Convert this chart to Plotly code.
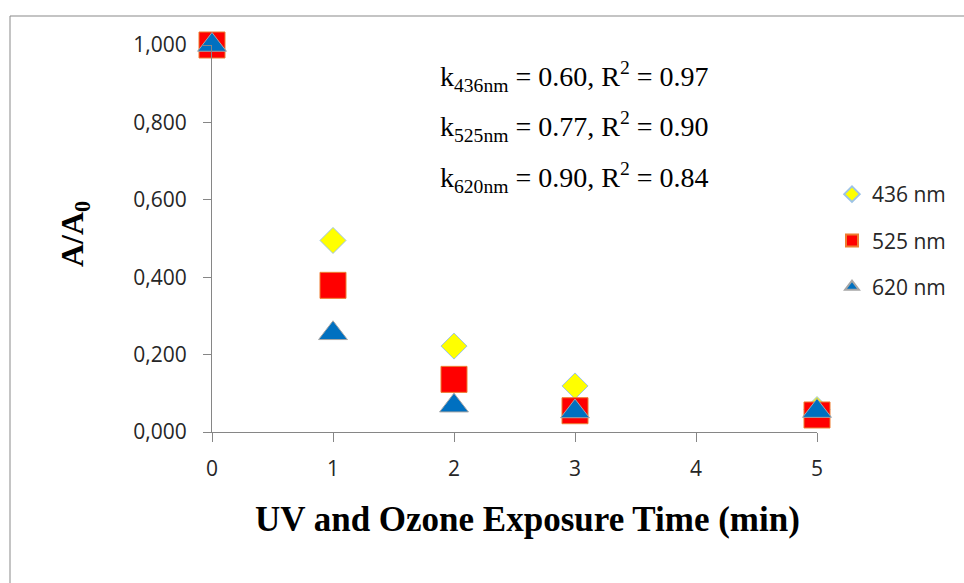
import plotly.graph_objects as go

# ---- data ----
times = [0, 1, 2, 3, 5]
a436 = [1.0, 0.495, 0.222, 0.119, 0.058]
a525 = [1.0, 0.379, 0.136, 0.055, 0.044]
a620 = [1.0, 0.255, 0.068, 0.053, 0.054]
series_names = ["436 nm", "525 nm", "620 nm"]
x_ticks = [0, 1, 2, 3, 4, 5]
y_ticks = [0.0, 0.2, 0.4, 0.6, 0.8, 1.0]
fit_lines = [
    ("436nm", "0.60", "0.97"),
    ("525nm", "0.77", "0.90"),
    ("620nm", "0.90", "0.84"),
]

W, H = 964, 583
L, R, T, B = 212, 147, 45, 151
PW = W - L - R
PH = H - T - B


def px(x):
    return (x - L) / PW


def py(y):
    return (H - B - y) / PH


tick_font = dict(family="Open Sans, Lato, sans-serif", size=21, color="#262626")
serif = "Liberation Serif, Times New Roman, serif"

fig = go.Figure()
styles = [
    dict(symbol="diamond", size=20, color="#FFFF00", line=dict(color="#9DC3E6", width=1)),
    dict(symbol="square", size=26, color="#FF0000", line=dict(color="#ED7D31", width=1)),
    dict(symbol="triangle-up", size=25, color="#0070C0", line=dict(color="#A6A6A6", width=1)),
]
for name, vals, st in zip(series_names, [a436, a525, a620], styles):
    fig.add_trace(go.Scatter(
        x=times, y=vals, mode="markers", name=name, marker=st,
        cliponaxis=False, legendgroup=name,
    ))

fig.update_layout(
    width=W, height=H,
    margin=dict(l=L, r=R, t=T, b=B),
    plot_bgcolor="white", paper_bgcolor="white",
    separators=",.",
    showlegend=True,
    legend=dict(
        x=px(832), y=py(174), xanchor="left", yanchor="top",
        font=tick_font, itemsizing="constant", tracegroupgap=16,
        bgcolor="rgba(0,0,0,0)",
    ),
    xaxis=dict(
        range=[0, 5], tickvals=x_ticks, showgrid=False, zeroline=False,
        showline=True, linecolor="#868686", linewidth=1,
        ticks="outside", ticklen=9, tickcolor="#868686",
        tickfont=tick_font, ticklabelstandoff=9,
    ),
    yaxis=dict(
        range=[0, 1], tickvals=y_ticks, tickformat=".3f", showgrid=False,
        zeroline=False, showline=True, linecolor="#868686", linewidth=1,
        ticks="outside", ticklen=8, tickcolor="#868686",
        tickfont=tick_font, ticklabelstandoff=12,
    ),
)

annotations = []
# axis titles
annotations.append(dict(
    text="<b>UV and Ozone Exposure Time (min)</b>", xref="paper", yref="paper",
    x=px(527), y=py(519), xanchor="center", yanchor="middle", showarrow=False,
    font=dict(family=serif, size=35, color="black"),
))
annotations.append(dict(
    text="<b>A/A<sub>0</sub></b>", xref="paper", yref="paper",
    x=px(74), y=py(234), xanchor="center", yanchor="middle", showarrow=False,
    textangle=-90, font=dict(family=serif, size=32, color="black"),
))
for i, (sub, k, r2) in enumerate(fit_lines):
    annotations.append(dict(
        text=f"k<sub>{sub}</sub> = {k}, R<sup>2</sup> = {r2}",
        xref="paper", yref="paper", x=px(438), y=py(76 + i * 50.5),
        xanchor="left", yanchor="middle", showarrow=False,
        font=dict(family=serif, size=28, color="black"),
    ))
fig.update_layout(annotations=annotations)

# outer chart border (extends past the right and bottom edges)
fig.add_shape(type="rect", xref="paper", yref="paper",
              x0=px(10), y0=py(600), x1=px(990), y1=py(16),
              line=dict(color="#898989", width=1), layer="below")

fig.write_html("out.html")
